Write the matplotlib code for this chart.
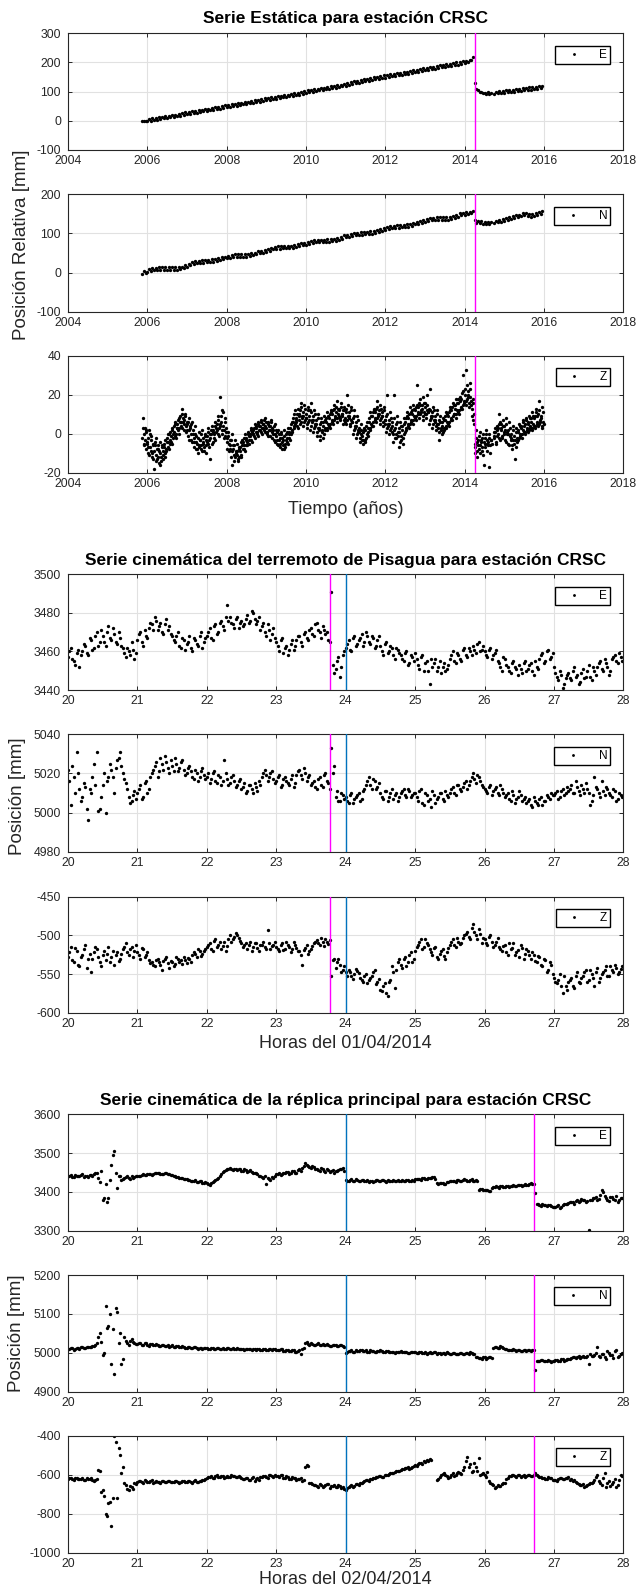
import matplotlib.pyplot as plt
import numpy as np

nan = np.nan

# ---- static series (mm), one row per year; half-month samples for E/N, weekly for Z
static_starts = [2005.875] + list(range(2006, 2016))

static_e = [
    [-1, 0, 1],
    [-2, 7, 0, 8, 2, 10, 4, 12, 6, 14, 8, 15, 10, 18, 12, 20, 14, 21, 16, 23, 18, 26, 20, 29],
    [22, 30, 24, 32, 26, 34, 28, 36, 30, 38, 32, 40, 34, 42, 36, 44, 38, 46, 40, 48, 42, 50, 44, 53],
    [46, 54, 48, 56, 50, 58, 52, 60, 54, 62, 56, 64, 58, 66, 60, 68, 62, 70, 64, 72, 66, 74, 68, 77],
    [70, 78, 72, 80, 74, 82, 76, 84, 78, 86, 80, 88, 82, 90, 84, 92, 86, 94, 88, 96, 90, 98, 92, 101],
    [96, 104, 98, 106, 100, 108, 102, 110, 104, 112, 106, 114, 108, 116, 110, 118, 112, 120, 114, 122, 116, 124, 118, 127],
    [121, 130, 123, 132, 126, 135, 128, 137, 130, 140, 133, 142, 135, 144, 137, 146, 139, 149, 142, 151, 144, 153, 147, 156],
    [148, 157, 150, 159, 152, 161, 154, 163, 156, 165, 158, 167, 160, 169, 162, 171, 164, 173, 166, 175, 168, 177, 171, 180],
    [173, 182, 175, 184, 177, 186, 179, 188, 181, 190, 183, 192, 185, 194, 187, 196, 189, 198, 191, 200, 193, 202, 195, 204],
    [197, 206, 201, 210, 208, 218, 128, 110, 106, 98, 100, 95, 97, 93, 98, 92, 96, nan, 92, 98, 94, 101, 96, 103],
    [96, 104, 98, 106, 99, 107, 100, 109, 102, 110, 103, 111, 105, 113, 106, 115, 107, 116, 109, 117, 110, 119, 112, 119],
]

static_n = [
    [-3, 3, 0],
    [1, 9, 4, 11, 6, 12, 7, 13, 7, 13, 7, 13, 7, 13, 7, 13, 7, 13, 7, 13, 8, 15, 11, 19],
    [15, 23, 19, 26, 22, 29, 24, 30, 25, 31, 25, 32, 27, 33, 27, 34, 28, 34, 29, 36, 32, 39, 34, 41],
    [36, 43, 38, 45, 40, 47, 41, 48, 41, 47, 41, 48, 41, 48, 42, 49, 44, 51, 47, 54, 49, 56, 51, 58],
    [53, 61, 56, 64, 59, 66, 61, 67, 61, 68, 62, 68, 62, 69, 63, 69, 63, 70, 65, 73, 68, 75, 70, 76],
    [71, 78, 73, 80, 75, 82, 77, 83, 77, 84, 78, 84, 79, 85, 79, 86, 80, 86, 81, 88, 84, 92, 87, 95],
    [90, 97, 92, 99, 94, 101, 96, 102, 97, 103, 97, 104, 98, 104, 99, 105, 99, 106, 101, 108, 104, 111, 107, 114],
    [109, 116, 112, 119, 113, 120, 115, 121, 115, 122, 116, 122, 117, 123, 117, 124, 119, 127, 123, 130, 125, 132, 127, 134],
    [130, 137, 132, 139, 134, 140, 135, 141, 135, 142, 135, 141, 135, 142, 135, 142, 137, 144, 139, 147, 143, 151, 146, 153],
    [147, 154, 149, 156, 151, 157, 134, 127, 132, 126, 132, 125, 130, 124, 129, 123, 128, nan, 126, 132, 128, 134, 130, 136],
    [133, 139, 135, 142, 137, 144, 140, 146, 142, 148, 144, 151, 146, 151, 144, 149, 143, 150, 145, 152, 148, 155, 150, 157],
]

# Z: two weekly sample sets, the second half a week later
static_z = [
    [-2, 8, -5, 3, -8, 1],
    [-4, -10, 2, -7, -9, -1, -12, -5, -18, -6, -11, -2, -13, -8, -15, -4, -10, -14, -6, -11, -7, -12, -3, -9,
     -2, -7, 0, -5, 1, -4, 3, -2, 4, -1, 6, 0, 5, 2, 8, 3, 9, 4, 13, 6, 7, 2, 10, 4],
    [5, -1, 8, 2, 3, -3, 6, 0, -2, -7, 4, -4, -5, -10, 1, -6, -3, -8, 2, -5, -4, -9, 0, -6,
     -1, -5, 3, -3, -13, 0, 4, -4, 2, -2, 6, 1, 5, 0, 9, 3, 19, 6, 12, 2, 4, -2, 8, 1],
    [-2, -8, 1, -5, -6, -12, 0, -9, -8, -14, -3, -10, -11, -5, -13, -7, -9, -4, -12, -6, -4, -8, 0, -6,
     -2, -6, 1, -3, 0, -3, 3, 1, 2, -1, 5, 1, 3, 0, 6, 2, 4, 1, 7, 3, 5, 2, 8, 4],
    [3, 0, 6, 2, 4, -1, 7, 1, 2, -3, 5, 0, -1, -5, 2, -3, -2, -7, 1, -4, -3, -8, 2, -5,
     0, -4, 3, -2, 1, -3, 5, 2, 6, 3, 10, 5, 8, 4, 13, 7, 10, 5, 16, 8, 9, 4, 15, 7],
    [8, 3, 14, 6, 9, 2, 16, 7, 7, 1, 12, 5, 5, -1, 10, 3, 3, -3, 8, 2, 4, -2, 9, 3,
     6, 2, 11, 5, 8, 3, 12, 7, 10, 5, 15, 9, 11, 6, 17, 10, 12, 7, 16, 9, 10, 5, 14, 8],
    [11, 5, 20, 9, 9, 4, 14, 7, 6, 0, 12, 4, 4, -2, 9, 2, 1, -4, 5, 0, -1, -5, 3, -3,
     2, -2, 6, 1, 6, 2, 11, 5, 9, 4, 13, 8, 11, 6, 17, 9, 10, 5, 15, 8, 9, 4, 14, 7],
    [7, 1, 20, 5, 5, 0, 11, 3, 4, -4, 20, 2, 3, -2, 9, 1, 1, -7, 6, -3, 2, -5, 8, 0,
     6, 2, 11, 5, 8, 3, 14, 7, 10, 5, 15, 9, 12, 7, 25, 11, 14, 8, 18, 12, 13, 7, 19, 11],
    [14, 8, 20, 12, 11, 5, 23, 9, 9, 3, 14, 7, 7, 2, 12, 5, 5, -3, 9, 3, 4, 0, 8, 2,
     7, 3, 11, 6, 9, 4, 14, 8, 12, 7, 16, 10, 13, 8, 18, 12, 16, 10, 19, 14, 18, 13, 30, 16],
    [20, 15, 33, 18, 22, 16, 26, 19, 15, 9, 18, 5, -5, -10, 2, -12, -3, -8, 1, -6, -4, -9, 0, -16,
     -2, -7, 2, -5, -4, -17, 0, -6, -3, nan, nan, 1, -2, 3, -4, 2, 0, 5, 10, -3, 3, -2, 7, 1],
    [4, -3, 8, 1, 2, -5, 6, -1, 0, -6, 4, -3, -1, -13, 3, -4, 1, -3, 5, 0, 3, -2, 7, 2,
     4, 0, 8, 3, 5, 1, 9, 4, 6, 2, 11, 5, 8, 3, 13, 6, 9, 4, 17, 7, 8, 3, 14, 6],
]
static_z_b = [
    [3, -6, 0, -3, 2, -5],
    [-7, -2, -11, 0, -3, -10, -6, -13, -9, -4, -14, -8, -6, -12, -9, -16, -12, -7, -9, -13, -5, -10, -8, -4,
     -4, 0, -8, -3, -1, 2, -5, 0, 1, 5, -2, 3, 3, 7, 0, 6, 6, 10, 3, 8, 5, 9, 1, 6],
    [2, 6, -3, 4, 0, 5, -4, 2, -4, 0, -8, -1, -8, -2, -7, -3, -6, 0, -9, -2, -7, -1, -10, -3,
     -4, 1, -7, 0, -2, 2, -5, 1, 0, 4, -3, 3, 2, 7, -1, 5, 4, 9, 0, 11, 2, 6, -1, 3],
    [-4, -1, -9, -3, -8, -3, -16, -6, -11, -6, -12, -9, -9, -14, -8, -12, -7, -11, -3, -8, -6, -2, -9, -3,
     -4, 0, -5, -1, -1, 2, -4, 0, 0, 3, -2, 4, 1, 5, -1, 4, 2, 6, 0, 5, 3, 7, 1, 6],
    [1, 5, -1, 4, 2, 6, -2, 3, 0, 4, -4, 2, -3, 1, -6, 0, -5, 0, -8, -2, -6, -1, -7, -3,
     -2, 1, -5, 0, 3, 0, 6, 1, 8, 4, 12, 7, 6, 10, 3, 9, 12, 6, 14, 9, 11, 6, 13, 8],
    [10, 5, 12, 7, 12, 4, 11, 6, 9, 3, 10, 4, 7, 1, 8, 2, 5, -1, 6, 1, 6, 0, 7, 2,
     8, 3, 9, 4, 10, 5, 11, 6, 12, 7, 13, 8, 14, 8, 13, 9, 13, 8, 14, 10, 12, 7, 12, 6],
    [13, 7, 15, 8, 11, 5, 12, 6, 8, 2, 9, 3, 6, 0, 7, 1, 3, -2, 2, -3, 1, -3, 2, -4,
     4, 0, 3, -1, 8, 3, 9, 4, 11, 6, 12, 7, 13, 8, 14, 10, 12, 7, 13, 9, 11, 6, 12, 5],
    [9, 3, 10, 4, 7, 2, 8, 1, 6, 0, 8, -2, 5, 0, 6, -1, 3, -4, 4, -1, 4, -2, 5, 1,
     8, 3, 9, 4, 10, 5, 11, 6, 12, 7, 13, 8, 14, 9, 15, 10, 16, 10, 15, 11, 15, 9, 16, 10],
    [16, 10, 15, 11, 13, 7, 12, 8, 11, 5, 12, 6, 9, 4, 10, 3, 7, 1, 6, 2, 6, 1, 7, 3,
     9, 4, 10, 5, 11, 6, 12, 7, 14, 9, 15, 10, 15, 10, 16, 11, 18, 12, 17, 13, 21, 15, 22, 17],
    [23, 17, 25, 19, 20, 14, 23, 17, 13, 7, 16, 10, -7, -2, -9, -4, -6, -1, -10, -3, -7, -2, -11, -4,
     -5, 0, -9, -3, -6, -2, -10, -3, -5, nan, nan, -1, 1, -5, 4, -1, 3, -2, 6, 2, 5, -1, 4, 0],
    [2, -4, 5, 0, 0, -6, 3, -2, -3, -8, 2, -5, -3, -7, 1, -2, 2, -2, 4, -1, 4, 0, 6, 1,
     5, 1, 7, 2, 6, 2, 8, 3, 8, 3, 9, 4, 9, 4, 11, 5, 10, 5, 12, 6, 9, 4, 11, 5],
]

# ---- kinematic series (mm), one row per hour; two 2.5-min sample sets, the second 1.25 min later
kin_starts = list(range(20, 28))

kin1_e = [
    [3457, 3462, 3455, 3459, 3452, 3460, 3463, 3458, 3466, 3462, 3470, 3465, 3468, 3463, 3473, 3466, 3469, 3464, 3467, 3462, 3457, 3460, 3465, 3456],
    [3466, 3470, 3463, 3468, 3472, 3474, 3478, 3471, 3475, 3469, 3477, 3473, 3468, 3465, 3470, 3462, 3466, 3464, 3468, 3460, 3466, 3463, 3470, 3465],
    [3468, 3472, 3466, 3474, 3470, 3476, 3471, 3484, 3478, 3474, 3477, 3472, 3476, 3474, 3479, 3476, 3480, 3474, 3478, 3473, 3470, 3474, 3466, 3472],
    [3465, 3460, 3467, 3462, 3458, 3464, 3461, 3466, 3468, 3463, 3470, 3466, 3472, 3468, 3475, 3470, 3473, 3469, 3466, 3491, 3449, 3455, 3447, 3458],
    [3462, 3466, 3460, 3468, 3464, 3467, 3463, 3470, 3465, 3468, 3462, 3466, 3463, 3458, 3465, 3460, 3462, 3456, 3461, 3458, 3455, 3460, 3454, 3457],
    [3459, 3453, 3457, 3450, 3455, 3443, 3452, 3456, 3452, 3449, 3454, 3451, 3456, 3460, 3454, 3458, 3455, 3462, 3457, 3460, 3463, 3459, 3465, 3461],
    [3460, 3457, 3462, 3458, 3461, 3454, 3450, 3456, 3452, 3449, 3455, 3451, 3453, 3449, 3455, 3451, 3454, 3448, 3452, 3456, 3459, 3455, 3461, 3457],
    [3452, 3447, 3450, 3441, 3446, 3449, 3445, 3452, 3448, 3444, 3451, 3447, 3453, 3445, 3450, 3452, 3455, 3450, 3454, 3448, 3456, 3458, 3454, 3457],
]
kin1_e_b = [
    [3460, 3456, 3453, 3461, 3458, 3464, 3459, 3467, 3461, 3468, 3463, 3471, 3465, 3470, 3467, 3472, 3465, 3470, 3463, 3459, 3462, 3458, 3461, 3459],
    [3469, 3465, 3471, 3467, 3475, 3471, 3476, 3473, 3470, 3474, 3471, 3469, 3466, 3468, 3463, 3467, 3461, 3465, 3462, 3467, 3464, 3468, 3462, 3467],
    [3470, 3467, 3473, 3469, 3475, 3473, 3478, 3476, 3475, 3472, 3478, 3475, 3473, 3477, 3475, 3481, 3477, 3476, 3471, 3475, 3468, 3471, 3469, 3467],
    [3463, 3466, 3459, 3463, 3461, 3466, 3463, 3468, 3465, 3469, 3467, 3471, 3469, 3474, 3471, 3467, 3471, 3470, 3465, 3453, 3451, 3457, 3452, 3460],
    [3464, 3461, 3467, 3463, 3466, 3469, 3465, 3468, 3464, 3467, 3463, 3468, 3460, 3464, 3459, 3463, 3458, 3462, 3459, 3456, 3459, 3453, 3458, 3455],
    [3456, 3451, 3458, 3454, 3450, 3456, 3454, 3450, 3455, 3452, 3450, 3453, 3458, 3455, 3459, 3456, 3461, 3458, 3462, 3458, 3461, 3464, 3460, 3463],
    [3458, 3461, 3456, 3459, 3455, 3452, 3457, 3453, 3450, 3454, 3452, 3448, 3451, 3454, 3450, 3453, 3450, 3455, 3451, 3458, 3454, 3460, 3456, 3459],
    [3449, 3445, 3448, 3443, 3448, 3446, 3450, 3447, 3443, 3449, 3446, 3450, 3447, 3452, 3448, 3454, 3451, 3456, 3452, 3450, 3457, 3455, 3459, 3455],
]
kin1_n = [
    [5022, 5004, 5018, 5031, 5012, 5008, 5013, 4996, 5010, 5025, 5031, 5002, 5014, 5000, 5018, 5022, 5010, 5027, 5031, 5020, 5015, 5008, 5006, 5011],
    [5010, 5014, 5008, 5016, 5012, 5020, 5024, 5018, 5028, 5022, 5026, 5020, 5024, 5028, 5021, 5026, 5022, 5020, 5024, 5018, 5022, 5016, 5021, 5019],
    [5018, 5015, 5020, 5016, 5019, 5014, 5027, 5017, 5015, 5019, 5013, 5016, 5012, 5015, 5011, 5014, 5010, 5013, 5016, 5018, 5022, 5016, 5020, 5017],
    [5016, 5019, 5014, 5018, 5015, 5017, 5013, 5019, 5022, 5017, 5020, 5018, 5014, 5016, 5012, 5018, 5013, 5020, 5015, 5033, 5024, 5011, 5006, 5009],
    [5008, 5005, 5010, 5007, 5009, 5006, 5011, 5014, 5018, 5012, 5016, 5013, 5010, 5007, 5011, 5008, 5012, 5009, 5006, 5010, 5012, 5008, 5011, 5009],
    [5010, 5006, 5012, 5004, 5009, 5007, 5011, 5005, 5008, 5010, 5006, 5009, 5010, 5013, 5009, 5014, 5011, 5015, 5012, 5016, 5020, 5015, 5018, 5014],
    [5012, 5010, 5014, 5011, 5013, 5009, 5012, 5008, 5010, 5006, 5009, 5007, 5011, 5006, 5008, 5006, 5004, 5008, 5005, 5007, 5004, 5006, 5008, 5010],
    [5009, 5011, 5008, 5012, 5010, 5011, 5014, 5010, 5013, 5009, 5012, 5015, 5010, 5006, 5018, 5012, 5008, 5011, 5013, 5010, 5008, 5011, 5007, 5009],
]
kin1_n_b = [
    [5016, 5024, 5010, 5020, 5006, 5015, 5002, 5012, 5018, 5014, 5001, 5008, 5020, 5016, 5025, 5018, 5023, 5028, 5024, 5017, 5012, 5005, 5009, 5007],
    [5012, 5007, 5015, 5010, 5018, 5022, 5026, 5021, 5025, 5029, 5023, 5027, 5021, 5025, 5023, 5027, 5019, 5023, 5021, 5017, 5020, 5018, 5023, 5017],
    [5020, 5017, 5021, 5015, 5018, 5016, 5020, 5014, 5018, 5016, 5014, 5017, 5013, 5010, 5014, 5012, 5015, 5011, 5014, 5020, 5019, 5018, 5021, 5015],
    [5018, 5013, 5017, 5016, 5014, 5019, 5015, 5021, 5019, 5023, 5016, 5019, 5015, 5013, 5017, 5014, 5019, 5016, 5012, 5020, 5008, 5006, 5010, 5007],
    [5006, 5009, 5005, 5008, 5010, 5007, 5012, 5016, 5014, 5017, 5012, 5015, 5008, 5011, 5006, 5010, 5007, 5010, 5008, 5011, 5009, 5012, 5008, 5010],
    [5008, 5011, 5005, 5010, 5006, 5003, 5009, 5007, 5010, 5007, 5011, 5008, 5012, 5010, 5014, 5012, 5013, 5016, 5014, 5018, 5017, 5019, 5016, 5013],
    [5011, 5013, 5009, 5012, 5010, 5014, 5010, 5009, 5007, 5011, 5005, 5008, 5009, 5007, 5005, 5007, 5003, 5006, 5004, 5008, 5006, 5009, 5007, 5009],
    [5010, 5007, 5011, 5009, 5013, 5012, 5010, 5016, 5011, 5014, 5010, 5012, 5004, 5009, 5013, 5010, 5016, 5009, 5012, 5009, 5012, 5006, 5010, 5008],
]
kin1_z = [
    [-528, -515, -535, -520, -540, -525, -512, -530, -548, -522, -518, -535, -525, -532, -515, -528, -538, -522, -530, -518, -510, -525, -515, -520],
    [-522, -530, -518, -526, -532, -535, -540, -530, -538, -533, -528, -542, -534, -537, -530, -532, -528, -536, -530, -526, -524, -518, -527, -520],
    [-515, -510, -520, -505, -512, -518, -508, -514, -500, -505, -497, -503, -510, -512, -518, -508, -515, -510, -520, -513, -515, -493, -518, -512],
    [-515, -520, -510, -518, -512, -522, -509, -516, -520, -538, -516, -524, -518, -510, -506, -512, -508, -505, -511, -552, -530, -535, -538, -545],
    [-548, -545, -552, -550, -546, -555, -560, -550, -558, -552, -545, -560, -570, -565, -575, -560, -540, -568, -535, -538, -530, -540, -526, -534],
    [-520, -512, -505, -515, -510, -518, -525, -515, -530, -520, -527, -522, -512, -505, -515, -508, -510, -500, -495, -505, -485, -500, -492, -510],
    [-505, -512, -500, -515, -508, -515, -520, -512, -525, -518, -510, -522, -528, -516, -524, -520, -530, -525, -535, -528, -540, -532, -545, -538],
    [-555, -562, -550, -575, -565, -560, -555, -568, -548, -562, -552, -545, -558, -550, -565, -542, -555, -548, -540, -552, -545, -538, -550, -544],
]
kin1_z_b = [
    [-522, -532, -516, -538, -528, -518, -542, -524, -530, -515, -528, -540, -520, -524, -535, -520, -526, -533, -524, -515, -522, -518, -528, -512],
    [-525, -516, -528, -522, -536, -538, -532, -535, -545, -530, -536, -533, -540, -528, -534, -537, -532, -529, -534, -522, -528, -520, -524, -517],
    [-512, -518, -507, -515, -509, -514, -520, -505, -508, -502, -499, -507, -515, -510, -513, -520, -510, -516, -512, -508, -518, -510, -514, -508],
    [-517, -513, -519, -508, -515, -518, -512, -520, -525, -519, -512, -520, -514, -508, -510, -504, -514, -509, -506, -532, -542, -530, -547, -540],
    [-552, -548, -556, -543, -549, -558, -553, -562, -555, -548, -563, -556, -572, -562, -578, -558, -548, -545, -530, -542, -528, -535, -522, -531],
    [-515, -508, -518, -505, -512, -521, -516, -528, -524, -518, -530, -516, -508, -512, -503, -511, -504, -498, -502, -490, -495, -505, -498, -503],
    [-510, -502, -509, -512, -504, -518, -514, -522, -510, -516, -526, -519, -512, -530, -518, -526, -522, -533, -527, -538, -530, -548, -535, -550],
    [-560, -558, -566, -552, -570, -558, -565, -552, -560, -555, -548, -560, -545, -555, -548, -560, -550, -545, -553, -540, -548, -542, -547, -540],
]

kin2_e = [
    [3440, 3443, 3438, 3442, 3440, 3445, 3441, 3439, 3443, 3446, 3450, 3425, 3378, 3420, 3385, 3470, 3505, 3410, 3440, 3432, 3438, 3435, 3440, 3438],
    [3440, 3442, 3445, 3443, 3446, 3444, 3448, 3450, 3447, 3446, 3449, 3445, 3443, 3440, 3438, 3436, 3434, 3432, 3430, 3428, 3430, 3425, 3427, 3424],
    [3422, 3418, 3425, 3430, 3435, 3445, 3455, 3458, 3462, 3456, 3460, 3458, 3455, 3458, 3452, 3456, 3450, 3448, 3442, 3438, 3440, 3436, 3430, 3435],
    [3445, 3448, 3446, 3450, 3452, 3448, 3455, 3450, 3458, 3462, 3475, 3468, 3462, 3465, 3458, 3455, 3460, 3452, 3456, 3454, 3450, 3455, 3458, 3462],
    [3430, 3428, 3432, 3429, 3431, 3427, 3430, 3428, 3426, 3429, 3427, 3430, 3428, 3431, 3426, 3429, 3427, 3428, 3430, 3429, 3427, 3430, 3428, 3431],
    [3432, 3434, 3431, 3435, 3433, 3436, 3438, 3434, 3420, 3423, 3421, 3425, 3427, 3429, 3426, 3430, 3428, 3432, 3429, 3431, 3428, 3430, 3405, 3408],
    [3404, 3406, 3403, 3412, 3414, 3411, 3415, 3413, 3416, 3414, 3417, 3415, 3418, 3416, 3420, 3419, 3422, 3420, 3370, 3366, 3368, 3365, 3367, 3363],
    [3360, 3364, 3358, 3366, 3368, 3372, 3375, 3370, 3378, 3376, 3380, 3374, 3302, 3380, 3385, 3378, 3392, 3400, 3383, 3376, 3388, 3380, 3375, 3385],
]
kin2_e_b = [
    [3442, 3439, 3444, 3441, 3443, 3438, 3442, 3444, 3440, 3448, 3435, 3455, 3383, 3375, 3430, 3495, 3450, 3440, 3430, 3436, 3441, 3433, 3437, 3441],
    [3441, 3444, 3443, 3446, 3445, 3447, 3449, 3448, 3446, 3448, 3447, 3444, 3441, 3439, 3437, 3435, 3433, 3431, 3429, 3427, 3426, 3428, 3423, 3426],
    [3420, 3424, 3428, 3433, 3440, 3452, 3457, 3460, 3459, 3458, 3456, 3460, 3454, 3457, 3453, 3452, 3449, 3445, 3440, 3437, 3420, 3433, 3438, 3440],
    [3447, 3444, 3449, 3451, 3447, 3453, 3449, 3456, 3455, 3468, 3470, 3463, 3466, 3460, 3457, 3462, 3454, 3458, 3452, 3456, 3453, 3457, 3460, 3455],
    [3429, 3431, 3428, 3432, 3428, 3430, 3427, 3431, 3428, 3426, 3430, 3428, 3430, 3427, 3430, 3428, 3431, 3427, 3429, 3431, 3428, 3431, 3427, 3429],
    [3433, 3432, 3436, 3434, 3437, 3435, 3439, 3424, 3422, 3424, 3420, 3426, 3428, 3427, 3431, 3427, 3431, 3430, 3428, 3432, 3429, 3428, 3407, 3404],
    [3405, 3402, 3410, 3413, 3412, 3414, 3412, 3415, 3413, 3416, 3414, 3418, 3417, 3419, 3418, 3421, 3421, 3398, 3368, 3364, 3367, 3364, 3366, 3361],
    [3362, 3366, 3361, 3370, 3369, 3374, 3373, 3377, 3375, 3381, 3378, 3376, 3379, 3383, 3388, 3381, 3405, 3390, 3378, 3386, 3382, 3390, 3379, 3383],
]
kin2_n = [
    [5010, 5012, 5008, 5013, 5011, 5014, 5012, 5016, 5015, 5018, 5025, 5050, 4995, 5120, 5070, 4970, 4945, 5105, 5050, 4985, 5030, 5020, 5035, 5025],
    [5022, 5026, 5020, 5024, 5018, 5022, 5019, 5021, 5017, 5020, 5018, 5016, 5019, 5015, 5017, 5014, 5016, 5013, 5015, 5012, 5014, 5011, 5013, 5012],
    [5012, 5010, 5013, 5011, 5012, 5009, 5011, 5013, 5010, 5012, 5009, 5011, 5010, 5008, 5011, 5009, 5010, 5008, 5010, 5007, 5009, 5008, 5010, 5009],
    [5008, 5006, 5009, 5005, 5007, 5004, 5006, 5003, 5008, 5010, 5025, 5022, 5024, 5021, 5023, 5020, 5022, 5019, 5021, 5018, 5020, 5017, 5019, 5018],
    [5000, 5004, 5006, 5003, 5005, 5007, 5004, 5006, 5003, 5005, 5002, 5004, 5006, 5003, 5005, 5001, 5003, 5000, 5002, 5004, 5001, 5003, 5000, 5002],
    [5001, 4999, 5002, 5000, 4998, 5001, 4999, 5002, 5000, 4997, 4999, 5001, 4998, 5000, 4996, 4998, 5000, 4997, 4999, 5001, 4998, 4990, 4987, 4985],
    [4988, 4986, 4990, 5012, 5015, 5013, 5016, 5011, 5008, 5006, 5009, 5005, 5007, 5004, 5006, 5008, 5005, 5007, 4980, 4978, 4982, 4979, 4981, 4977],
    [4979, 4982, 4980, 4983, 4981, 4984, 4986, 4988, 4990, 4987, 4992, 4989, 4970, 4992, 4995, 5015, 4990, 4998, 4985, 5000, 4994, 5005, 4990, 4996],
]
kin2_n_b = [
    [5011, 5013, 5010, 5012, 5014, 5013, 5015, 5014, 5017, 5020, 5040, 5028, 5000, 5065, 5100, 5060, 5115, 5025, 4970, 5040, 5025, 5030, 5028, 5022],
    [5024, 5021, 5025, 5020, 5023, 5020, 5022, 5018, 5021, 5017, 5019, 5017, 5016, 5018, 5014, 5017, 5013, 5016, 5012, 5014, 5013, 5012, 5011, 5013],
    [5011, 5012, 5010, 5013, 5010, 5012, 5010, 5012, 5011, 5010, 5012, 5009, 5011, 5009, 5010, 5008, 5011, 5009, 5007, 5010, 5008, 5011, 5008, 5010],
    [5007, 5009, 5004, 5007, 5005, 5007, 5002, 5005, 4998, 5012, 5028, 5021, 5023, 5020, 5024, 5019, 5021, 5022, 5018, 5021, 5019, 5018, 5020, 5016],
    [5002, 5005, 5003, 5006, 5004, 5006, 5005, 5003, 5006, 5004, 5003, 5005, 5004, 5002, 5004, 5002, 5001, 5003, 5001, 5003, 5002, 4999, 5002, 5001],
    [5000, 5001, 4999, 5001, 4999, 5000, 5001, 4998, 4999, 5000, 4998, 5000, 4997, 4999, 4997, 5000, 4998, 5000, 4998, 4999, 4996, 4988, 4986, 4989],
    [4985, 4989, 4987, 5016, 5013, 5018, 5012, 5010, 5007, 5008, 5006, 5006, 5005, 5007, 5005, 5007, 5006, 4955, 4979, 4981, 4978, 4980, 4978, 4980],
    [4981, 4980, 4983, 4980, 4985, 4983, 4988, 4987, 4991, 4989, 4988, 4993, 4996, 4991, 5000, 4993, 4997, 4988, 5005, 4995, 4987, 5008, 4993, 4999],
]
kin2_z = [
    [-620, -615, -625, -618, -622, -616, -624, -620, -618, -630, -620, -580, -680, -800, -745, -865, -400, -720, -500, -560, -650, -680, -660, -640],
    [-635, -630, -640, -632, -638, -628, -636, -634, -640, -630, -637, -633, -639, -631, -635, -638, -630, -636, -633, -640, -628, -634, -631, -626],
    [-615, -610, -618, -605, -612, -608, -614, -606, -610, -604, -612, -608, -615, -622, -618, -628, -612, -620, -625, -610, -606, -615, -600, -610],
    [-605, -612, -600, -618, -610, -620, -615, -625, -620, -630, -560, -555, -640, -650, -655, -645, -660, -652, -648, -658, -650, -662, -655, -660],
    [-680, -660, -650, -655, -645, -640, -635, -625, -630, -620, -615, -610, -605, -612, -600, -595, -590, -585, -580, -575, -570, -565, -572, -560],
    [-550, -545, -540, -530, -525, -520, nan, nan, -620, -600, -590, -605, -610, -590, -600, -585, -595, -560, -510, -545, -580, -560, -515, -595],
    [-600, -585, -640, -650, -660, -655, -645, -640, -615, -605, -600, -610, -598, -605, -612, -600, -608, -603, -598, -610, -615, -620, -612, -618],
    [-625, -630, -618, -622, -615, -610, -620, -625, -640, -650, -645, -655, -648, -640, -625, -600, -640, -615, -660, -630, -645, -620, -650, -600],
]
kin2_z_b = [
    [-618, -623, -616, -621, -619, -625, -617, -622, -626, -625, -575, -690, -710, -810, -740, -720, -430, -460, -590, -640, -670, -655, -670, -645],
    [-632, -638, -628, -636, -633, -640, -631, -637, -633, -638, -632, -636, -634, -630, -640, -633, -638, -631, -635, -629, -637, -630, -628, -622],
    [-612, -608, -614, -602, -610, -606, -611, -609, -603, -607, -610, -612, -620, -618, -625, -615, -632, -618, -612, -605, -612, -598, -608, -602],
    [-608, -603, -615, -606, -622, -612, -618, -622, -615, -628, -548, -640, -645, -652, -660, -650, -655, -648, -665, -655, -660, -650, -665, -670],
    [-668, -655, -660, -648, -650, -642, -630, -628, -622, -618, -612, -606, -610, -602, -598, -592, -588, -582, -578, -570, -566, -560, -562, -555],
    [-552, -538, -546, -535, -528, -522, nan, -625, -610, -595, -600, -615, -598, -605, -588, -592, -575, -530, -560, -585, -540, -580, -600, -590],
    [-610, -630, -645, -665, -650, -658, -642, -620, -608, -602, -606, -600, -610, -603, -607, -598, -605, -590, -605, -612, -618, -622, -615, -625],
    [-628, -622, -615, -620, -618, -625, -630, -635, -645, -652, -660, -650, -642, -635, -610, -630, -650, -590, -640, -655, -635, -660, -625, -605],
]

quake_year = 2014.25
quake_hour = 23.775
aftershock_hour = 26.715
midnight = 24.0

plt.rcParams['font.family'] = ['Liberation Sans', 'DejaVu Sans']
plt.rcParams['axes.unicode_minus'] = False

W, H = 638, 1591
fig = plt.figure(figsize=(W / 100, H / 100), dpi=100)
AX_L, AX_R = 67.9, 623.4
MAGENTA, BLUE, INK = '#ff00ff', '#0072bd', '#262626'


def expand(rows, starts, step, offset=0.0):
    t = np.concatenate([s + (np.arange(len(r)) + offset) * step for s, r in zip(starts, rows)])
    v = np.concatenate([np.asarray(r, float) for r in rows])
    return t, v


def both(rows_a, rows_b, starts, step):
    ta, va = expand(rows_a, starts, step)
    tb, vb = expand(rows_b, starts, step, 0.5)
    return np.concatenate([ta, tb]), np.concatenate([va, vb])


def panel(top, bottom, t, v, name, xlim, xticks, ylim, yticks, vlines):
    ax = fig.add_axes([AX_L / W, 1 - bottom / H, (AX_R - AX_L) / W, (bottom - top) / H])
    ax.plot(t, v, 'o', color='k', ms=2.4, mew=0, label=name, zorder=2)
    for x, c in vlines:
        ax.axvline(x, color=c, lw=1.0, zorder=3)
    ax.set_xlim(xlim)
    ax.set_xticks(xticks)
    ax.set_ylim(ylim)
    ax.set_yticks(yticks)
    ax.grid(True, color='#e1e1e1', lw=0.8)
    ax.set_axisbelow(True)
    ax.tick_params(direction='in', top=True, right=True, length=3, width=0.7,
                   labelsize=8.8, colors=INK, pad=3.5)
    ax.tick_params(axis='y', pad=5)
    for sp in ax.spines.values():
        sp.set_color(INK)
        sp.set_linewidth(0.8)
    leg = ax.legend(loc='upper right', bbox_to_anchor=(1 - 13.1 / (AX_R - AX_L), 1 - 12.4 / (bottom - top)),
                    borderaxespad=0, fontsize=8.5, handlelength=2.6, handletextpad=0.9,
                    borderpad=0.25, fancybox=False, edgecolor='k', framealpha=1, numpoints=1,
                    markerscale=0.85)
    leg.get_frame().set_linewidth(1.0)
    return ax


# static panels
years = np.arange(2004, 2019, 2)
te, ve = expand(static_e, static_starts, 1 / 24)
tn, vn = expand(static_n, static_starts, 1 / 24)
tz, vz = both(static_z, static_z_b, static_starts, 1 / 48)
qline = [(quake_year, MAGENTA)]
panel(33.3, 150, te, ve, 'E', (2004, 2018), years, (-100, 300), np.arange(-100, 301, 100), qline)
panel(194.3, 311.7, tn, vn, 'N', (2004, 2018), years, (-100, 200), np.arange(-100, 201, 100), qline)
panel(356, 472.7, tz, vz, 'Z', (2004, 2018), years, (-20, 40), np.arange(-20, 41, 20), qline)

# kinematic, main shock
hours = np.arange(20, 29)
lines1 = [(quake_hour, MAGENTA), (midnight, BLUE)]
t, v = both(kin1_e, kin1_e_b, kin_starts, 1 / 24)
panel(574.3, 690, t, v, 'E', (20, 28), hours, (3440, 3500), np.arange(3440, 3501, 20), lines1)
t, v = both(kin1_n, kin1_n_b, kin_starts, 1 / 24)
panel(734.3, 851.7, t, v, 'N', (20, 28), hours, (4980, 5040), np.arange(4980, 5041, 20), lines1)
t, v = both(kin1_z, kin1_z_b, kin_starts, 1 / 24)
panel(896.7, 1012.7, t, v, 'Z', (20, 28), hours, (-600, -450), np.arange(-600, -449, 50), lines1)

# kinematic, aftershock
lines2 = [(midnight, BLUE), (aftershock_hour, MAGENTA)]
t, v = both(kin2_e, kin2_e_b, kin_starts, 1 / 24)
panel(1114.3, 1230.7, t, v, 'E', (20, 28), hours, (3300, 3600), np.arange(3300, 3601, 100), lines2)
t, v = both(kin2_n, kin2_n_b, kin_starts, 1 / 24)
panel(1275, 1391.7, t, v, 'N', (20, 28), hours, (4900, 5200), np.arange(4900, 5201, 100), lines2)
t, v = both(kin2_z, kin2_z_b, kin_starts, 1 / 24)
panel(1436, 1552.7, t, v, 'Z', (20, 28), hours, (-1000, -400), np.arange(-1000, -399, 200), lines2)

cx = (AX_L + AX_R) / 2 / W


def ftext(x, y, s, color=INK, **kw):
    fig.text(x, 1 - y / H, s, ha='center', va='center', color=color, **kw)


ftext(cx, 18, 'Serie Estática para estación CRSC', fontsize=12.5, fontweight='bold', color='k')
ftext(cx, 560, 'Serie cinemática del terremoto de Pisagua para estación CRSC', fontsize=12.5, fontweight='bold', color='k')
ftext(cx, 1100, 'Serie cinemática de la réplica principal para estación CRSC', fontsize=12.5, fontweight='bold', color='k')

ftext(cx, 509, 'Tiempo (años)', fontsize=13)
ftext(cx, 1043, 'Horas del 01/04/2014', fontsize=13)
ftext(cx, 1580, 'Horas del 02/04/2014', fontsize=13)

ftext(22 / W, 245, 'Posición Relativa [mm]', fontsize=13.5, rotation=90)
ftext(18 / W, 796, 'Posición [mm]', fontsize=13.5, rotation=90)
ftext(17 / W, 1333, 'Posición [mm]', fontsize=13.5, rotation=90)

fig.savefig('out.png', dpi=100)
